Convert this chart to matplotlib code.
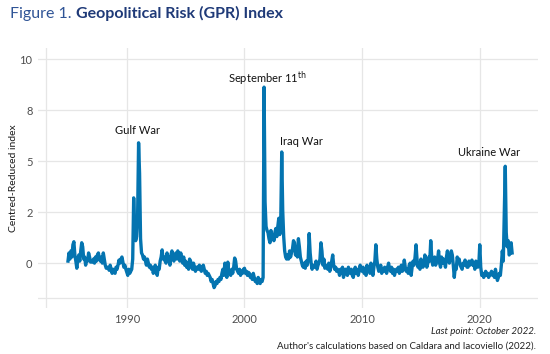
import matplotlib
matplotlib.use("Agg")
import matplotlib.pyplot as plt
import numpy as np
import pandas as pd

# monthly GPR index (centred-reduced)
gpr_1985_1989 = [
    0.1, 0.5, 0.2, 0.6, 0.3, 0.9, 1.05, 0.4, 0.1, -0.25, 0.2, 0.4,
    0.1, 0.6, 1.0, 0.8, 0.2, 0.3, -0.1, 0.2, 0.1, 0.5, 0.3, 0.05,
    0.1, 0.05, 0.2, 0.0, 0.3, 0.1, 0.4, 0.5, 0.2, 0.1, 0.3, 0.0,
    0.5, 0.2, -0.1, -0.25, -0.2, -0.25, -0.35, -0.1, -0.3, -0.5, -0.3, -0.45,
    -0.5, -0.2, -0.3, -0.1, 0.15, 0.0, 0.2, 0.3, 0.05, -0.2, -0.1, -0.3,
]
gpr_1990s = [
    -0.45, -0.6, -0.3, -0.5, -0.4, -0.3, 0.2, 3.2, 1.6, 1.1, 1.3, 2.3,
    5.9, 4.4, 1.2, 0.5, 0.4, 0.2, 0.3, 0.1, -0.1, 0.2, 0.0, -0.2,
    -0.1, -0.3, -0.2, -0.5, -0.3, -0.1, -0.4, -0.6, -0.2, -0.3, 0.1, 0.3,
    0.65, 0.2, 0.3, 0.1, 0.0, 0.5, 0.1, 0.3, -0.1, 0.4, 0.6, 0.2,
    0.1, 0.4, 0.5, 0.2, 0.6, 0.3, 0.1, 0.5, 0.2, 0.0, 0.3, -0.1,
    0.1, -0.2, 0.0, -0.3, 0.2, 0.1, -0.1, -0.3, 0.0, -0.2, -0.4, -0.2,
    -0.2, -0.3, -0.1, -0.3, -0.4, -0.2, -0.1, -0.3, -0.5, -0.4, -0.6, -0.5,
    -0.6, -0.7, -0.9, -0.8, -1.0, -1.2, -1.1, -0.9, -1.0, -0.8, -0.9, -0.7,
    -0.8, -0.5, -0.3, -0.6, 0.0, -0.2, -0.7, 0.05, -0.5, -0.4, -0.6, -0.3,
    -0.5, -0.2, 0.25, 0.1, -0.3, -0.4, -0.5, -0.3, -0.6, -0.4, -0.5, -0.3,
]
gpr_2000s = [
    -0.25, -0.5, -0.4, -0.6, -0.45, -0.5, -0.7, -0.6, -0.8, -0.5, -0.7, -0.9,
    -0.8, -1.0, -0.7, -0.9, -1.0, -0.8, -0.9, -0.7, 8.63, 3.0, 1.8, 1.6,
    1.5, 1.2, 1.0, 1.6, 1.2, 1.4, 1.1, 1.5, 1.7, 1.3, 1.8, 2.2,
    1.4, 2.0, 5.45, 2.6, 1.3, 0.6, 0.3, 0.2, 0.4, 0.2, 0.6, 0.3,
    0.5, 0.7, 1.1, 1.0, 0.4, 0.6, 0.3, 1.2, 0.8, 0.3, 0.1, -0.1,
    -0.2, 0.0, -0.25, 0.1, -0.1, 0.2, 1.45, 0.5, 0.0, -0.3, -0.1, -0.2,
    -0.2, 0.1, -0.3, -0.1, 0.0, 0.2, 1.0, 0.6, -0.1, 0.2, -0.25, -0.1,
    -0.2, -0.3, 0.0, -0.4, -0.2, 0.1, 0.4, -0.1, -0.3, -0.2, -0.4, -0.3,
    -0.4, -0.6, -0.3, -0.5, -0.2, -0.7, -0.4, -0.3, -0.5, -0.6, -0.2, -0.4,
    -0.5, -0.3, -0.6, -0.7, -0.4, -0.2, -0.5, -0.3, -0.6, -0.4, -0.1, -0.3,
]
gpr_2010s = [
    -0.4, -0.2, -0.5, -0.3, -0.6, -0.1, -0.4, -0.3, -0.5, 0.0, -0.3, -0.6,
    -0.2, 0.1, 0.9, 0.2, -0.2, -0.4, -0.3, -0.1, -0.5, -0.3, -0.4, -0.2,
    -0.3, -0.5, -0.2, 0.0, -0.3, -0.4, -0.2, -0.5, -0.3, -0.6, -0.4, -0.3,
    -0.4, -0.2, -0.5, -0.3, -0.1, -0.4, -0.3, 0.15, -0.2, -0.4, -0.3, -0.5,
    -0.1, 0.0, -0.6, -0.2, 0.1, -0.1, 0.3, 0.9, 0.2, -0.2, 0.0, -0.3,
    0.2, -0.1, -0.2, -0.1, 0.4, 0.1, -0.2, 0.0, 0.3, 0.1, 1.1, 0.3,
    -0.1, 0.2, 0.3, -0.1, 0.1, 0.2, 0.6, 0.0, -0.2, 0.3, 0.0, 0.2,
    0.1, -0.2, 0.3, 0.6, 0.2, 0.0, 0.3, 0.6, 0.4, -0.1, -0.7, -0.2,
    -0.3, 0.3, 0.1, 0.2, -0.1, -0.2, -0.3, 0.0, -0.1, 0.15, 0.0, -0.2,
    -0.2, 0.1, -0.1, 0.0, 0.15, -0.1, 0.0, -0.3, 0.1, -0.1, -0.2, -0.1,
]
gpr_2020s = [
    0.9, -0.2, -0.6, -0.5, -0.7, -0.6, -0.4, -0.6, -0.5, -0.7, -0.6, -0.5,
    -0.4, -0.6, -0.5, -0.7, -0.3, -0.6, -0.85, -0.7, -0.5, -0.6, -0.1, 0.6,
    0.1, 2.5, 4.75, 1.5, 0.8, 1.1, 0.4, 0.5, 1.0, 0.5,
]

events = ["Gulf War", "September 11$^{\\mathrm{th}}$", "Iraq War", "Ukraine War"]
event_x = [1990.9, 2001.9, 2004.8, 2020.8]
event_y = [6.5, 9.05, 5.95, 5.45]

yticks = [0, 2.5, 5, 7.5, 10]
ytick_labels = ["0", "2", "5", "8", "10"]
xticks = [1990, 2000, 2010, 2020]

values = np.array(gpr_1985_1989 + gpr_1990s + gpr_2000s + gpr_2010s + gpr_2020s)
dates = pd.date_range("1985-01-01", periods=len(values), freq="MS")
t = dates.year + (dates.month - 1) / 12

plt.rcParams["font.family"] = ["Lato", "DejaVu Sans"]
grid_col = "#e6e6e6"

fig = plt.figure(figsize=(5.5, 3.54), dpi=100)
ax = fig.add_axes([38 / 550, 1 - 308 / 354, 500 / 550, 260 / 354])

ax.plot(t, values, color="#0474b0", lw=2.4, solid_joinstyle="round", zorder=3)

ax.set_xlim(1982.45, 2024.95)
ax.set_ylim(-2.2, 10.55)
ax.set_xticks(xticks)
ax.set_yticks(yticks)
ax.set_yticklabels(ytick_labels)
ax.grid(True, color=grid_col, lw=0.9)
ax.axvline(1983.1, color=grid_col, lw=0.9, zorder=0)
ax.axhline(-1.72, color=grid_col, lw=0.9, zorder=0)
for s in ax.spines.values():
    s.set_visible(False)
ax.tick_params(length=0, labelsize=8, colors="#4d4d4d", pad=4)
ax.set_ylabel("Centred-Reduced index", fontsize=7.5, color="#1a1a1a", labelpad=1)

for lab, x, y in zip(events, event_x, event_y):
    ax.text(x, y, lab, fontsize=8, ha="center", va="center", color="#111111")

fig.text(536 / 550, 1 - 331 / 354, "Last point: October 2022.", ha="right",
         va="center", fontsize=7, style="italic", color="#222222")
fig.text(536 / 550, 1 - 346 / 354,
         "Author's calculations based on Caldara and Iacoviello (2022).",
         ha="right", va="center", fontsize=7, color="#222222")

# title: regular prefix + bold part
t1 = fig.text(10 / 550, 1 - 18 / 354, "Figure 1. ", fontsize=11.5,
              color="#2f5496", va="baseline")
fig.canvas.draw()
bb = t1.get_window_extent()
fig.text(bb.x1 / fig.bbox.width, 1 - 18 / 354, "Geopolitical Risk (GPR) Index",
         fontsize=11.5, fontweight="bold", color="#1f3a78", va="baseline")

fig.savefig("out.png", dpi=100)
